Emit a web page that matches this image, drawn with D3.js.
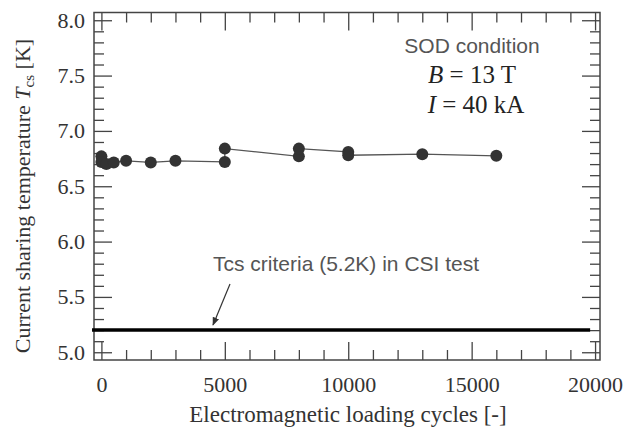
<!DOCTYPE html>
<html>
<head>
<meta charset="utf-8">
<script src="https://cdn.jsdelivr.net/npm/d3@7"></script>
<style>
  body { margin: 0; background: #fff; }
  svg { display: block; }
  .tick text { font-family: "Liberation Serif", "Times New Roman", serif; font-size: 22px; fill: #333; }
  .tick line { stroke: #444; stroke-width: 1.3; }
</style>
</head>
<body>
<div id="graph"></div>
<script>
// measured data (cycles, Tcs) in plotting order
var cycles = [0, 0, 200, 500, 1000, 2000, 3000, 5000, 5000, 8000, 8000, 10000, 10000, 13000, 16000];
var tcs = [6.77, 6.72, 6.70, 6.715, 6.73, 6.715, 6.73, 6.72, 6.84, 6.77, 6.84, 6.81, 6.78, 6.79, 6.775];

var xMajor = [0, 5000, 10000, 15000, 20000];
var yMajor = [5.0, 5.5, 6.0, 6.5, 7.0, 7.5, 8.0];
var criteriaValue = 5.2;
var criteriaSpan = [-380, 19800];

var width = 623, height = 427;
var plotLeft = 94, plotRight = 600, plotTop = 12.5, plotBottom = 360;

var svg = d3.select("#graph").append("svg")
    .attr("width", width)
    .attr("height", height);

var x = d3.scaleLinear().domain([-300, 20200]).range([plotLeft, plotRight]);
var y = d3.scaleLinear().domain([4.93, 8.07]).range([plotBottom, plotTop]);

var xMinor = d3.range(0, 20001, 1000).filter(function(d) { return d % 5000 != 0; });
var yMinor = d3.range(50, 81, 1).map(function(d) { return d / 10; })
    .filter(function(d) { return Math.round(d * 10) % 5 != 0; });

function addAxis(axis, tx, ty) {
    var g = svg.append("g")
        .attr("transform", "translate(" + tx + "," + ty + ")")
        .call(axis);
    g.select(".domain").remove();
    return g;
}

// major ticks with labels (inside)
addAxis(d3.axisBottom(x).tickValues(xMajor).tickSize(-18).tickPadding(16).tickFormat(d3.format("d")), 0, plotBottom);
addAxis(d3.axisLeft(y).tickValues(yMajor).tickSize(-18).tickPadding(9).tickFormat(d3.format(".1f")), plotLeft, 0);
// opposite sides, no labels
addAxis(d3.axisTop(x).tickValues(xMajor).tickSize(-18).tickFormat(""), 0, plotTop);
addAxis(d3.axisRight(y).tickValues(yMajor).tickSize(-18).tickFormat(""), plotRight, 0);
// minor ticks
addAxis(d3.axisBottom(x).tickValues(xMinor).tickSize(-10).tickFormat(""), 0, plotBottom);
addAxis(d3.axisTop(x).tickValues(xMinor).tickSize(-10).tickFormat(""), 0, plotTop);
addAxis(d3.axisLeft(y).tickValues(yMinor).tickSize(-10).tickFormat(""), plotLeft, 0);
addAxis(d3.axisRight(y).tickValues(yMinor).tickSize(-10).tickFormat(""), plotRight, 0);

svg.selectAll(".tick text").attr("fill", "#333");
svg.selectAll(".tick line").attr("stroke", "#444");

// frame
svg.append("rect")
    .attr("x", plotLeft).attr("y", plotTop)
    .attr("width", plotRight - plotLeft).attr("height", plotBottom - plotTop)
    .attr("fill", "none")
    .attr("stroke", "#444")
    .attr("stroke-width", 1.5);

// criteria line
svg.append("line")
    .attr("x1", x(criteriaSpan[0])).attr("x2", x(criteriaSpan[1]))
    .attr("y1", y(criteriaValue)).attr("y2", y(criteriaValue))
    .attr("stroke", "#000")
    .attr("stroke-width", 3.5);

// data line and points
var data = cycles.map(function(c, i) { return { c: c, t: tcs[i] }; });

var line = d3.line()
    .x(function(d) { return x(d.c); })
    .y(function(d) { return y(d.t); });

svg.append("path")
    .datum(data)
    .attr("fill", "none")
    .attr("stroke", "#555")
    .attr("stroke-width", 1.3)
    .attr("d", line);

svg.selectAll(".pt")
    .data(data)
    .enter()
    .append("circle")
    .attr("class", "pt")
    .attr("cx", function(d) { return x(d.c); })
    .attr("cy", function(d) { return y(d.t); })
    .attr("r", 6)
    .attr("fill", "#333");

// annotations
var sans = "'Liberation Sans', Arial, sans-serif";
var serif = "'Liberation Serif', 'Times New Roman', serif";

svg.append("text")
    .attr("x", 472).attr("y", 53)
    .attr("text-anchor", "middle")
    .attr("font-family", sans).attr("font-size", 21)
    .attr("fill", "#555")
    .text("SOD condition");

var t1 = svg.append("text")
    .attr("x", 472).attr("y", 83)
    .attr("text-anchor", "middle")
    .attr("font-family", serif).attr("font-size", 25)
    .attr("fill", "#222");
t1.append("tspan").attr("font-style", "italic").text("B");
t1.append("tspan").text(" = 13 T");

var t2 = svg.append("text")
    .attr("x", 476).attr("y", 113)
    .attr("text-anchor", "middle")
    .attr("font-family", serif).attr("font-size", 25)
    .attr("fill", "#222");
t2.append("tspan").attr("font-style", "italic").text("I");
t2.append("tspan").text(" = 40 kA");

svg.append("text")
    .attr("x", 213).attr("y", 271)
    .attr("font-family", sans).attr("font-size", 21)
    .attr("fill", "#555")
    .text("Tcs criteria (5.2K) in CSI test");

// arrow
svg.append("defs").append("marker")
    .attr("id", "arrow")
    .attr("viewBox", "0 0 10 10")
    .attr("refX", 9).attr("refY", 5)
    .attr("markerWidth", 7).attr("markerHeight", 7)
    .attr("orient", "auto")
    .append("path")
    .attr("d", "M0,1 L10,5 L0,9 z")
    .attr("fill", "#333");

svg.append("line")
    .attr("x1", 230).attr("y1", 284)
    .attr("x2", 213).attr("y2", 325)
    .attr("stroke", "#333")
    .attr("stroke-width", 1.2)
    .attr("marker-end", "url(#arrow)");

// axis titles
svg.append("text")
    .attr("x", 348).attr("y", 422)
    .attr("text-anchor", "middle")
    .attr("font-family", serif).attr("font-size", 23)
    .attr("fill", "#333")
    .text("Electromagnetic loading cycles [-]");

var yl = svg.append("text")
    .attr("transform", "translate(30,196) rotate(-90)")
    .attr("text-anchor", "middle")
    .attr("font-family", serif).attr("font-size", 22)
    .attr("fill", "#333");
yl.append("tspan").text("Current sharing temperature ");
yl.append("tspan").attr("font-style", "italic").text("T");
yl.append("tspan").attr("font-size", 15).attr("dy", 4).text("cs");
yl.append("tspan").attr("dy", -4).text(" [K]");
</script>
</body>
</html>
